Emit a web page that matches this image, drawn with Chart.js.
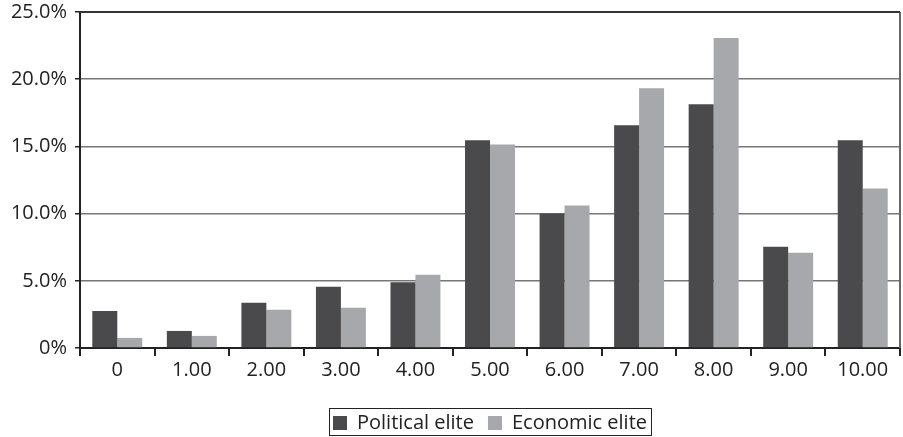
<!DOCTYPE html>
<html>
<head>
<meta charset="utf-8">
<script src="https://cdn.jsdelivr.net/npm/chart.js@4/dist/chart.umd.min.js"></script>
<style>
html,body{margin:0;padding:0;background:#fff;}
#wrap{width:903px;height:437px;position:relative;}
</style>
</head>
<body>
<div id="wrap"><canvas id="c" width="903" height="437"></canvas></div>
<script>
const categories = ['0','1.00','2.00','3.00','4.00','5.00','6.00','7.00','8.00','9.00','10.00'];
const politicalElite = [2.76, 1.27, 3.36, 4.55, 4.9, 15.45, 10.0, 16.57, 18.13, 7.54, 15.45];
const economicElite = [0.75, 0.9, 2.84, 2.99, 5.45, 15.15, 10.6, 19.33, 23.06, 7.09, 11.87];
const seriesNames = ['Political elite', 'Economic elite'];
const yTickValues = [0, 5, 10, 15, 20, 25];
const yTickLabels = ['0%', '5.0%', '10.0%', '15.0%', '20.0%', '25.0%'];

const FONT = "'Open Sans', 'Noto Sans', sans-serif";

const frame = {
  id: 'frame',
  beforeDraw(chart) {
    const lg = chart.legend, a = chart.chartArea;
    if (lg && lg.legendHitBoxes) {
      const shift = ((a.left + a.right) - (lg.left + lg.right)) / 2;
      lg.left = a.left;
      lg.right = a.right;
      lg.legendHitBoxes.forEach(b => { b.left += shift; });
    }
  },
  afterDraw(chart) {
    const ctx = chart.ctx, a = chart.chartArea;
    ctx.save();
    ctx.strokeStyle = '#666';
    ctx.lineWidth = 2;
    ctx.beginPath();
    ctx.moveTo(a.right, a.top);
    ctx.lineTo(a.right, a.bottom);
    ctx.stroke();
    ctx.strokeStyle = '#333';
    ctx.lineWidth = 2;
    ctx.beginPath();
    ctx.moveTo(a.left, a.top);
    ctx.lineTo(a.right, a.top);
    ctx.stroke();
    const lg = chart.legend;
    if (lg && lg.legendHitBoxes && lg.legendHitBoxes.length) {
      const hb = lg.legendHitBoxes;
      let x0 = Infinity, x1 = -Infinity, y0 = Infinity, y1 = -Infinity;
      hb.forEach(b => { x0 = Math.min(x0, b.left); x1 = Math.max(x1, b.left + b.width); y0 = Math.min(y0, b.top); y1 = Math.max(y1, b.top + b.height); });
      ctx.strokeStyle = '#222';
      ctx.lineWidth = 1;
      ctx.strokeRect(Math.round(x0 - 4) + 0.5, Math.round(y0 - 5) + 0.5, Math.round(x1 - x0 + 8), Math.round(y1 - y0 + 7));
    }
    ctx.restore();
  }
};

new Chart(document.getElementById('c'), {
  type: 'bar',
  data: {
    labels: categories,
    datasets: [
      { label: seriesNames[0], data: politicalElite, backgroundColor: '#4a4a4c', borderWidth: 0 },
      { label: seriesNames[1], data: economicElite, backgroundColor: '#a7a8ab', borderWidth: 0 }
    ]
  },
  options: {
    responsive: false,
    animation: false,
    devicePixelRatio: 1,
    layout: { padding: { left: 0, right: 3, top: 12, bottom: -6 } },
    datasets: { bar: { categoryPercentage: 0.67, barPercentage: 1.0 } },
    plugins: {
      tooltip: { enabled: false },
      legend: {
        position: 'bottom',
        labels: {
          font: { family: FONT, size: 20 },
          color: '#222',
          boxWidth: 14,
          boxHeight: 14,
          padding: 14
        }
      }
    },
    scales: {
      x: {
        grid: {
          offset: true,
          drawOnChartArea: false,
          drawTicks: true,
          tickLength: 8,
          tickColor: '#222',
          lineWidth: 2
        },
        border: { color: '#222', width: 2 },
        ticks: {
          font: { family: FONT, size: 20 },
          color: '#222',
          padding: 2,
          maxRotation: 0
        },
        afterFit(s) { s.height = 51; s.paddingLeft = 0; s.paddingRight = 0; }
      },
      y: {
        min: 0,
        max: 25,
        afterBuildTicks(s) { s.ticks = yTickValues.map(v => ({ value: v })); },
        grid: {
          color: '#777',
          lineWidth: 1.5,
          drawTicks: true,
          tickLength: 5,
          tickColor: '#222'
        },
        border: { color: '#222', width: 2 },
        ticks: {
          font: { family: FONT, size: 20 },
          color: '#222',
          padding: 8,
          callback(v) { const i = yTickValues.indexOf(v); return i >= 0 ? yTickLabels[i] : ''; }
        },
        afterFit(s) { s.width = 80; s.paddingTop = 0; s.paddingBottom = 0; }
      }
    }
  },
  plugins: [frame]
});
</script>
</body>
</html>
